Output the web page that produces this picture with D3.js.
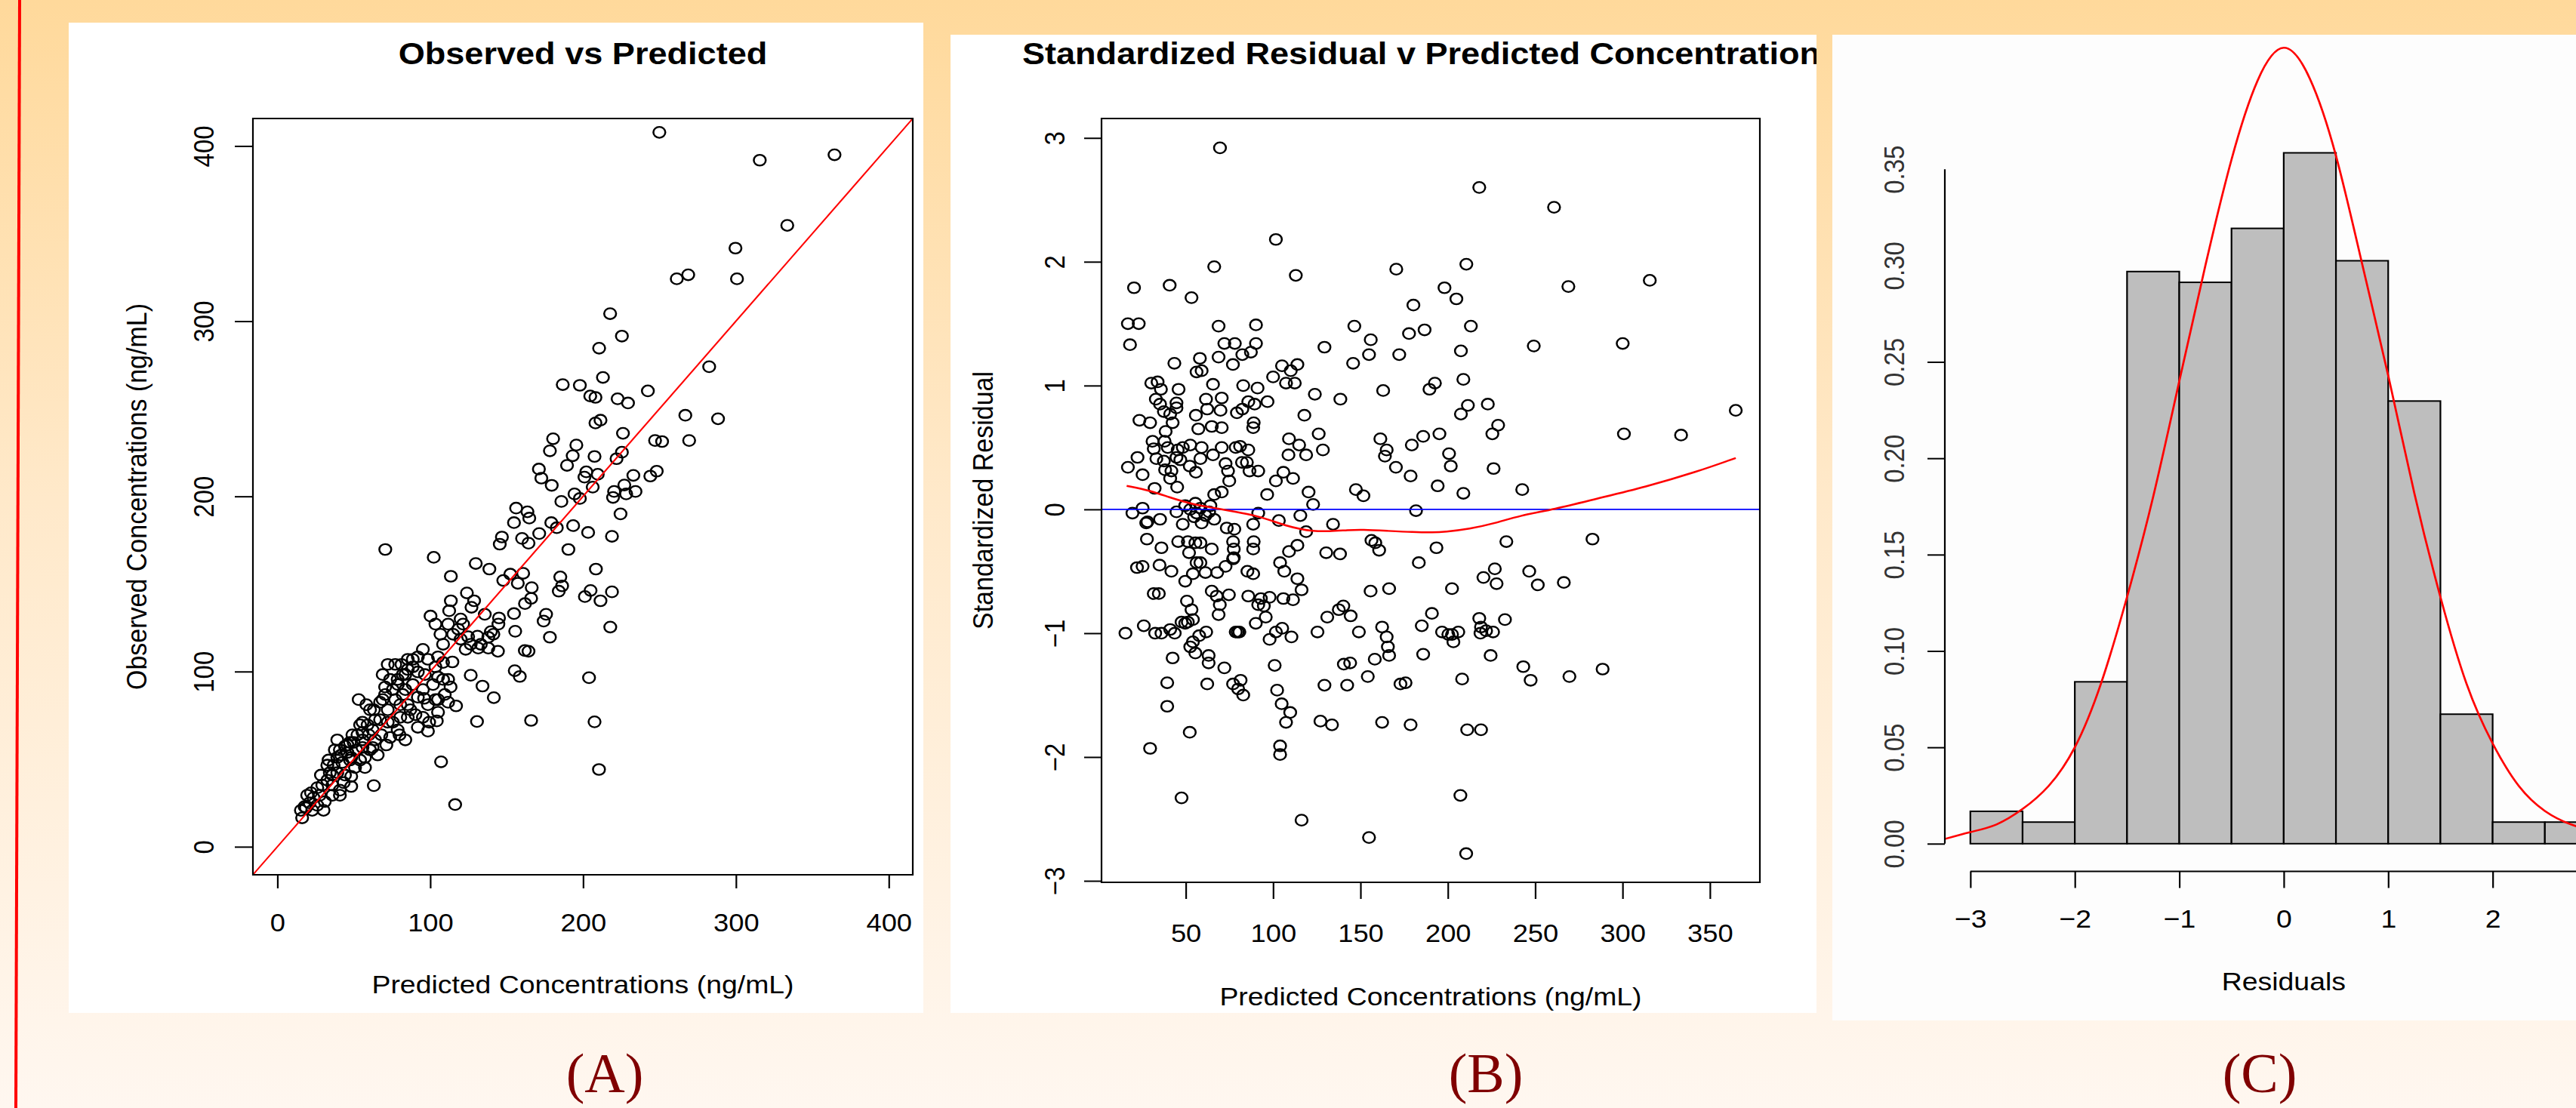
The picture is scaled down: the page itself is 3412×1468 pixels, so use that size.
<!DOCTYPE html>
<html>
<head>
<meta charset="utf-8">
<script src="https://cdn.jsdelivr.net/npm/d3@7"></script>
<style>
  html, body { margin: 0; padding: 0; overflow: hidden; }
  svg { display: block; }
  text { font-family: "Liberation Sans", Arial, sans-serif; }
</style>
</head>
<body>
<svg id="fig"></svg>
<script>
const WIDTH = 3412;
const HEIGHT = 1468;
// the pasted plots are a little wider than tall
const SX = 1.1;
const hx = (v) => v / SX;

// (A) predicted vs observed concentration, ng/mL
const obsPred = [
  [249.9,407.8],[315.6,391.9],[364.5,395.0],[333.6,354.7],[299.7,341.7],[300.7,324.2],[261.3,324.2],[268.8,326.5],
  [217.7,304.3],[225.4,291.5],[210.5,284.6],[282.5,274.0],[213.0,267.9],[186.7,263.8],[197.9,263.4],[204.7,257.3],
  [208.1,256.5],[222.6,255.7],[229.4,253.3],[242.4,260.2],[266.9,246.3],[288.3,244.3],[208.1,241.9],[211.4,243.5],
  [226.1,236.0],[180.4,232.9],[178.3,226.0],[195.6,229.3],[193.2,223.2],[207.5,222.8],[225.4,225.2],[221.9,221.5],
  [247.1,231.9],[251.7,231.3],[269.4,231.9],[171.1,215.6],[172.7,210.4],[179.5,206.3],[189.5,217.7],[202.1,214.0],
  [200.9,211.0],[209.6,212.6],[206.3,205.3],[232.9,212.0],[244.0,211.6],[248.2,214.4],[220.3,202.8],[227.0,206.5],
  [234.3,202.8],[219.6,199.4],[228.2,201.4],[194.4,201.4],[185.8,197.1],[197.9,198.8],[224.5,190.0],[156.2,193.3],
  [163.6,191.2],[164.8,187.6],[154.8,185.0],[179.2,185.0],[182.8,182.1],[193.5,183.3],[203.3,179.4],[171.3,178.8],
  [160.1,176.0],[164.3,173.3],[146.9,176.8],[145.5,172.7],[218.9,177.2],[190.4,169.7],[70.6,169.7],[102.3,165.2],
  [129.8,161.7],[138.7,158.5],[113.5,154.4],[152.4,155.6],[160.8,156.1],[147.8,152.0],[157.3,150.4],[166.4,147.9],
  [208.4,158.5],[185.1,154.0],[186.3,148.9],[184.1,145.9],[204.9,146.3],[218.9,145.5],[201.2,142.8],[211.4,140.4],
  [124.0,144.9],[128.7,140.4],[166.0,141.8],[162.0,138.8],[113.5,140.4],[112.4,134.7],[127.0,136.7],[100.2,131.7],
  [135.7,132.7],[145.0,130.6],[154.8,133.1],[175.8,132.7],
  [217.8,125.4],[178.3,119.6],[174.2,128.8],[155.6,123.0],[164.3,111.6],[161.9,112.0],[155.3,100.5],[158.6,97.2],
  [203.9,96.5],[130.9,120.2],[138.0,119.6],[144.3,111.6],[131.4,113.4],[138.0,113.4],[126.5,97.9],[134.2,91.7],
  [141.6,85.1],[116.9,80.4],[130.6,71.5],[166.0,72.1],[207.5,71.3],[107.1,48.5],[210.4,44.1],[116.3,24.1],
  [63.1,34.9],[114.5,105.5],[108.4,105.2],[111.7,95.5],[105.1,96.9],[103.4,102.7],[113.3,91.2],[109.5,86.9],
  [111.7,82.5],[105.1,76.8],[104.3,71.8],[98.5,66.0],[103.4,84.0],[96.0,84.7],[90.3,75.4],[95.2,73.9],
  [83.7,61.0],[79.9,63.9],[85.3,81.1],[87.0,78.2],[82.0,86.9],[77.1,84.0],[78.8,92.6],[73.8,95.5],
  [83.7,98.3],[88.6,102.7],[91.9,99.8],[96.5,98.3],[70.5,91.2],[68.9,84.0],[72.2,78.2],[67.2,72.5],
  [75.5,71.1],[78.7,66.7],[73.8,62.4],[71.3,58.1],[68.0,63.9],[62.3,66.7],[63.9,61.0],[59.8,63.9],
  [60.6,55.3],[55.7,56.7],[54.1,49.5],[57.3,45.2],[50.8,45.2],[48.3,51.0],[53.2,84.0],[58.2,81.1],
  [54.1,69.6],[55.7,65.3],[49.1,63.9],[44.2,57.4],[40.9,55.3],[39.2,51.0],[45.8,53.8],[42.5,48.1],
  [36.8,46.6],[34.3,42.3],[39.2,42.3],[32.7,38.0],[29.4,35.2],[36.0,35.2],[40.9,32.3],[48.3,34.4],
  [27.7,29.4],[23.6,28.0],[31.0,25.8],[21.1,25.1],[17.8,22.9],[15.4,20.8],[16.2,16.5],[26.1,23.7],
  [30.2,20.8],[36.0,29.4],[40.9,29.4],[62.3,56.7],[65.6,52.4],[39.2,61.0],[44.2,40.9],[22.8,20.8],
  [19.5,29.4],[48.3,40.2],[63.9,72.5],[60.6,78.2],[80.4,73.9],[85.3,73.9],[91.9,68.2],[99.3,71.1],
  [37.6,55.3],[41.7,52.4],[45.8,58.1],[49.9,59.6],[52.4,63.9],[55.7,71.1],[59.0,69.6],[63.1,78.2],
  [67.2,82.5],[70.5,86.9],[75.5,89.7],[78.7,95.5],[82.0,98.3],[85.3,101.2],[81.2,104.1],[88.6,107.0],
  [91.9,108.4],[95.2,112.7],[98.5,107.0],[105.1,108.4],[108.4,115.6],[115.0,121.3],[118.3,124.2],[121.5,127.1],
  [111.7,127.1],[119.9,130.0],[103.4,127.1],[106.7,121.3],[124.8,119.9],[126.5,115.6],[133.1,115.6],[139.7,122.8],
  [144.6,127.1],[141.3,121.3],[119.9,118.5],[123.2,112.7],[32.7,46.6],[26.1,33.7],[22.0,30.8],[18.7,22.2],
  [28.5,40.9],[33.5,49.5],[47.5,59.6],[51.6,55.3],[55.7,61.0],[36.0,40.9],[43.4,36.6],[47.5,49.5],
  [57.3,51.0],[72.2,71.1],[80.4,81.1],[91.9,85.4],[88.6,92.6],[95.2,89.7],[101.8,92.6],[108.4,95.5],
  [98.5,81.1],[105.1,84.0],[83.7,89.7],[85.3,107.0],[77.1,104.1],[72.2,104.1],[68.9,98.3]
];

// (B) predicted concentration vs standardized residual
const residuals = [
  [69.6,2.92],[101.6,2.18],[66.3,1.96],[113.0,1.89],[170.5,1.94],[20.4,1.79],[40.8,1.81],[53.3,1.71],[180.3,1.65],
  [16.9,1.50],[23.1,1.50],[18.1,1.33],[68.8,1.48],[90.2,1.49],[146.5,1.48],[155.9,1.37],[177.8,1.42],[186.7,1.45],
  [72.1,1.34],[78.1,1.34],[90.2,1.34],[82.4,1.25],[87.3,1.27],[68.8,1.23],[77.0,1.17],[129.4,1.31],[154.9,1.25],
  [172.2,1.25],[145.8,1.18],[43.5,1.18],[58.1,1.22],[56.2,1.11],[59.1,1.12],[105.1,1.16],[113.9,1.17],[110.1,1.12],
  [100.0,1.07],[107.4,1.02],[112.4,1.02],[30.3,1.02],[33.9,1.03],[35.8,0.97],[45.9,0.97],[65.6,1.01],[82.9,1.00],
  [91.1,0.98],[123.9,0.93],[138.5,0.89],[163.0,0.96],[32.9,0.89],[35.3,0.85],[44.7,0.86],[44.7,0.82],[61.6,0.89],
  [70.6,0.90],[62.3,0.81],[69.9,0.80],[85.8,0.87],[89.4,0.85],[96.8,0.87],[79.3,0.78],[82.4,0.81],[37.5,0.79],
  [41.1,0.77],[23.5,0.72],[29.6,0.70],[42.5,0.70],[55.8,0.76],[57.2,0.65],[64.9,0.67],[70.6,0.66],[88.9,0.70],
  [88.6,0.66],[117.9,0.76],[126.1,0.61],[109.1,0.57],[114.9,0.52],[108.8,0.44],[118.9,0.44],[128.5,0.48],[161.4,0.57],
  [165.0,0.48],[164.0,0.43],[170.3,0.34],[178.7,0.27],[179.4,0.52],[185.9,0.59],[38.5,0.63],[37.9,0.55],[31.0,0.55],
  [31.7,0.49],[39.7,0.50],[45.4,0.48],[48.3,0.50],[52.6,0.52],[59.1,0.50],[65.6,0.44],[70.6,0.50],[78.6,0.50],
  [81.1,0.51],[85.8,0.48],[22.4,0.42],[16.9,0.34],[25.3,0.28],[33.2,0.41],[37.5,0.39],[44.7,0.42],[46.9,0.40],
  [52.3,0.35],[58.4,0.41],[38.2,0.32],[41.8,0.31],[55.8,0.30],[41.1,0.25],[72.8,0.37],[74.2,0.31],[74.9,0.23],
  [82.2,0.38],[85.0,0.38],[86.5,0.31],[91.5,0.31],[101.6,0.23],[105.9,0.30],[111.4,0.25],[32.2,0.17],[45.1,0.18],
  [120.3,0.14],[147.4,0.16],[66.3,0.12],[70.6,0.14],[96.6,0.12],[151.7,0.11],
  [25.3,0.01],[19.5,-0.03],[28.1,-0.10],[27.4,-0.11],[35.3,-0.08],[44.7,-0.02],[48.3,-0.12],[52.6,0.00],[56.2,-0.03],
  [59.1,-0.11],[61.3,-0.05],[66.3,-0.08],[64.1,0.03],[73.5,-0.15],[77.8,-0.16],[88.6,-0.12],[91.5,-0.03],[103.3,-0.09],
  [115.6,-0.05],[122.9,0.04],[118.9,-0.18],[134.3,-0.12],[181.8,-0.01],[49.7,0.03],[54.8,-0.06],[58.4,0.01],[63.4,-0.02],
  [55.5,0.05],[27.8,-0.24],[36.1,-0.31],[45.7,-0.26],[51.2,-0.26],[55.5,-0.27],[58.4,-0.27],[64.9,-0.32],[51.9,-0.35],
  [77.1,-0.26],[77.5,-0.32],[77.5,-0.39],[88.9,-0.26],[88.6,-0.32],[113.9,-0.29],[109.1,-0.34],[130.4,-0.35],[138.3,-0.36],
  [156.3,-0.25],[160.7,-0.33],[158.5,-0.27],[183.4,-0.43],[22.1,-0.47],[25.3,-0.46],[35.0,-0.45],[41.8,-0.50],[54.1,-0.52],
  [56.2,-0.43],[58.4,-0.43],[61.3,-0.51],[49.7,-0.58],[68.0,-0.51],[72.8,-0.46],[77.1,-0.40],[85.3,-0.50],[88.6,-0.52],
  [104.0,-0.43],[106.4,-0.50],[113.9,-0.56],[116.3,-0.65],[31.7,-0.68],[34.6,-0.68],[64.9,-0.66],[67.7,-0.70],[74.7,-0.69],
  [85.8,-0.70],[93.0,-0.72],[98.0,-0.71],[91.5,-0.77],[94.7,-0.78],[105.9,-0.72],[111.4,-0.73],[155.8,-0.66],[166.4,-0.64],
  [50.7,-0.74],[53.3,-0.81],[69.5,-0.77],[68.8,-0.85],[95.8,-0.87],[90.1,-0.92],[140.2,-0.78],[137.6,-0.81],[144.4,-0.86],
  [131.0,-0.87],[15.5,-1.00],[26.0,-0.94],[32.5,-1.00],[36.1,-1.00],[41.1,-0.97],[43.7,-1.00],[47.6,-0.91],[51.2,-0.91],
  [54.1,-0.89],[49.7,-0.92],[61.7,-0.99],[57.7,-1.02],[54.1,-1.07],[52.6,-1.11],[55.5,-1.16],[79.7,-0.99],[80.7,-0.99],
  [78.6,-0.99],[98.0,-1.05],[101.6,-0.99],[105.2,-0.96],[110.5,-1.03],[125.4,-0.99],[149.1,-0.99],[162.4,-0.95],[165.0,-1.03],
  [165.7,-1.11],[166.4,-1.18],[185.1,-0.94],[185.9,-1.17],[42.5,-1.20],[63.1,-1.18],[63.1,-1.24],[72.1,-1.28],[100.9,-1.26],
  [140.5,-1.25],[144.1,-1.24],[158.2,-1.21],[39.4,-1.40],[62.3,-1.41],[77.1,-1.41],[81.4,-1.38],[80.0,-1.45],[82.9,-1.50],
  [102.3,-1.46],[129.4,-1.42],[142.4,-1.42],[154.2,-1.35],[172.9,-1.41],[175.8,-1.40],[39.4,-1.59],[104.9,-1.57],[109.8,-1.64],
  [107.4,-1.72],[127.1,-1.71],[133.7,-1.74],[162.4,-1.72],[178.7,-1.74],[52.3,-1.80],[29.6,-1.93],[104.0,-1.91],[104.0,-1.98],
  [47.6,-2.33],[116.3,-2.51],[154.9,-2.65],
  [218.0,2.60],[260.8,2.44],[210.6,1.98],[198.1,1.79],[204.9,1.70],[269.0,1.80],[315.6,1.85],[213.2,1.48],[207.5,1.28],
  [249.2,1.32],[300.1,1.34],[189.5,0.97],[192.6,1.02],[208.9,1.05],[211.5,0.84],[207.5,0.77],[222.9,0.85],[225.5,0.61],
  [228.8,0.68],[195.2,0.61],[300.8,0.61],[333.5,0.60],[364.8,0.80],[200.7,0.45],[201.7,0.35],[194.2,0.19],[208.9,0.13],
  [226.2,0.33],[242.6,0.16],[193.5,-0.31],[233.5,-0.26],[282.8,-0.24],[202.4,-0.64],[226.9,-0.48],[220.4,-0.55],[227.9,-0.60],
  [246.6,-0.50],[251.5,-0.61],[266.4,-0.59],[190.9,-0.84],[196.7,-0.99],[200.3,-1.01],[202.4,-1.01],[206.0,-0.99],[203.2,-1.07],
  [218.0,-0.88],[219.0,-0.95],[218.7,-1.00],[221.9,-0.98],[225.9,-0.99],[232.7,-0.89],[224.5,-1.18],[208.2,-1.37],[243.2,-1.27],
  [247.4,-1.38],[269.6,-1.35],[288.6,-1.29],[211.1,-1.78],[219.0,-1.78],[207.2,-2.31],[210.5,-2.78]
];

// (B) smoother through the residuals
const loessB = [
  [16.2,0.19],[30,0.15],[40,0.10],[54,0.04],[67,0.01],[79,-0.02],[90,-0.05],[99,-0.09],[107,-0.13],[116,-0.16],
  [122,-0.175],[132,-0.178],[143,-0.167],[151,-0.163],[165,-0.173],[180,-0.184],[192,-0.187],[198,-0.182],
  [212.5,-0.158],[226.9,-0.113],[241.3,-0.049],[260.8,0.0],[284.5,0.084],[313.3,0.182],[342.2,0.302],[364.8,0.415]
];

// (C) histogram of residuals (density) with fitted curve
const histBreaks = [-3, -2.5, -2, -1.5, -1, -0.5, 0, 0.5, 1, 1.5, 2, 2.5, 3];
const histDensity = [0.0168, 0.0112, 0.0840, 0.2969, 0.2913, 0.3193, 0.3585, 0.3025, 0.2297, 0.0672, 0.0112, 0.0112];
const densityCurve = [
  [-3.24,0.0025],[-3.0,0.006],[-2.75,0.010],[-2.5,0.018],[-2.25,0.030],[-2.0,0.050],[-1.75,0.083],[-1.5,0.128],
  [-1.25,0.180],[-1.0,0.240],[-0.75,0.300],[-0.5,0.355],[-0.25,0.396],[0,0.413],[0.25,0.397],[0.5,0.357],
  [0.75,0.301],[1.0,0.243],[1.25,0.182],[1.5,0.128],[1.75,0.083],[2.0,0.052],[2.25,0.030],[2.5,0.017],
  [2.75,0.010],[3.0,0.006],[3.2,0.0035]
];

const ticksA = [0, 100, 200, 300, 400];
const ticksBx = [50, 100, 150, 200, 250, 300, 350];
const ticksBy = [-3, -2, -1, 0, 1, 2, 3];
// the tick at 3 falls just past the right edge of the picture
const ticksCx = [-3, -2, -1, 0, 1, 2];
const ticksCy = [0, 0.05, 0.10, 0.15, 0.20, 0.25, 0.30, 0.35];
const tickMarksCy = [0, 0.05, 0.10, 0.15, 0.20, 0.25];
const panelNames = ['(A)', '(B)', '(C)'];

const minus = (v) => String(v).replace('-', '\u2212');

function bottomAxis(g, scale, ticks, y, size, labelY, fmt) {
  const ax = g.append('g')
      .attr('transform', `translate(0,${y})`)
      .call(d3.axisBottom(scale).tickValues(ticks).tickSize(size).tickFormat(fmt));
  ax.select('.domain').remove();
  ax.selectAll('.tick line').attr('stroke', '#000').attr('stroke-width', 2);
  ax.selectAll('.tick text')
      .attr('y', labelY).attr('dy', null)
      .attr('fill', '#000')
      .style('font-size', '33px')
      .style('font-family', '"Liberation Sans", Arial, sans-serif');
  return ax;
}

function leftAxis(g, scale, ticks, x, size, labelX, fmt, colour) {
  const ax = g.append('g')
      .attr('transform', `translate(${x},0)`)
      .call(d3.axisLeft(scale).tickValues(ticks).tickSize(size).tickFormat(fmt));
  ax.select('.domain').remove();
  ax.selectAll('.tick line').attr('stroke', '#000').attr('stroke-width', 2);
  ax.selectAll('.tick text')
      .attr('x', null).attr('dy', null)
      .attr('transform', `translate(${-labelX},0) rotate(-90)`)
      .attr('text-anchor', 'middle')
      .attr('fill', colour || '#000')
      .style('font-size', '33px')
      .style('font-family', '"Liberation Sans", Arial, sans-serif');
  return ax;
}

function label(g, text, x, y, opts = {}) {
  const t = g.append('text')
      .attr('text-anchor', 'middle')
      .attr('fill', opts.fill || '#000')
      .style('font-size', (opts.size || 34) + 'px')
      .style('font-weight', opts.bold ? 'bold' : 'normal')
      .text(text);
  if (opts.rotate) {
    t.attr('transform', `translate(${x},${y}) rotate(-90)`);
  } else {
    t.attr('x', x).attr('y', y);
  }
  return t;
}

window.onload = () => {
  const svg = d3.select('#fig')
      .attr('width', WIDTH)
      .attr('height', HEIGHT);

  const defs = svg.append('defs');
  const grad = defs.append('linearGradient')
      .attr('id', 'bg').attr('x1', 0).attr('y1', 0).attr('x2', 0).attr('y2', 1);
  grad.append('stop').attr('offset', '0%').attr('stop-color', '#FFD99B');
  grad.append('stop').attr('offset', '45%').attr('stop-color', '#FFE9CA');
  grad.append('stop').attr('offset', '100%').attr('stop-color', '#FFF7F0');

  svg.append('rect').attr('width', WIDTH).attr('height', HEIGHT).attr('fill', 'url(#bg)');
  svg.append('line')
      .attr('x1', 26).attr('y1', 0).attr('x2', 21).attr('y2', HEIGHT)
      .attr('stroke', '#FF0000').attr('stroke-width', 4);

  // white plot backgrounds
  const boxes = [
    {x: 91, y: 30, w: 1132, h: 1312},
    {x: 1259, y: 46, w: 1147, h: 1296},
    {x: 2427, y: 46, w: 985, h: 1306},
  ];
  svg.append('g').selectAll('rect')
      .data(boxes)
      .join('rect')
      .attr('x', (d) => d.x).attr('y', (d) => d.y)
      .attr('width', (d) => d.w).attr('height', (d) => d.h)
      .attr('fill', (d, i) => (i === 2 ? '#FDFDFD' : '#FFFFFF'));

  // panel letters
  svg.append('g').selectAll('text')
      .data(panelNames)
      .join('text')
      .attr('x', (d, i) => [801, 1968, 2993][i])
      .attr('y', 1447)
      .attr('text-anchor', 'middle')
      .attr('fill', '#800000')
      .style('font-family', '"Liberation Serif", "Times New Roman", serif')
      .style('font-size', '74px')
      .text((d) => d);

  const g = svg.append('g').attr('transform', `scale(${SX},1)`);

  // ---------- (A) ----------
  const limA = [-16, 415.7];
  const xA = d3.scaleLinear().domain(limA).range([hx(335), hx(1209)]);
  const yA = d3.scaleLinear().domain(limA).range([1159, 157]);
  const gA = g.append('g');

  gA.append('g').selectAll('circle')
      .data(obsPred)
      .join('circle')
      .attr('cx', (d) => xA(d[0]))
      .attr('cy', (d) => yA(d[1]))
      .attr('r', 7.2)
      .attr('fill', 'none')
      .attr('stroke', '#000')
      .attr('stroke-width', 2.3);

  gA.append('line')
      .attr('x1', xA(limA[0])).attr('y1', yA(limA[0]))
      .attr('x2', xA(limA[1])).attr('y2', yA(limA[1]))
      .attr('stroke', '#FF0000').attr('stroke-width', 2);

  gA.append('rect')
      .attr('x', xA(limA[0])).attr('y', yA(limA[1]))
      .attr('width', xA(limA[1]) - xA(limA[0]))
      .attr('height', yA(limA[0]) - yA(limA[1]))
      .attr('fill', 'none').attr('stroke', '#000').attr('stroke-width', 2);

  bottomAxis(gA, xA, ticksA, 1159, 18, 75, d3.format('d'));
  leftAxis(gA, yA, ticksA, hx(335), hx(24), hx(52), d3.format('d'));

  const midA = (xA(limA[0]) + xA(limA[1])) / 2;
  label(gA, 'Observed vs Predicted', midA, 85, {size: 41, bold: true});
  label(gA, 'Predicted Concentrations (ng/mL)', midA, 1316);
  label(gA, 'Observed Concentrations (ng/mL)', hx(194), 658, {rotate: true});

  // ---------- (B) ----------
  const limBx = [1.8, 378.6];
  const limBy = [-3.012, 3.157];
  const xB = d3.scaleLinear().domain(limBx).range([hx(1459), hx(2331)]);
  const yB = d3.scaleLinear().domain(limBy).range([1169, 157]);
  const gB = g.append('g');

  gB.append('g').selectAll('circle')
      .data(residuals)
      .join('circle')
      .attr('cx', (d) => xB(d[0]))
      .attr('cy', (d) => yB(d[1]))
      .attr('r', 7.2)
      .attr('fill', 'none')
      .attr('stroke', '#000')
      .attr('stroke-width', 2.3);

  gB.append('line')
      .attr('x1', xB(limBx[0])).attr('x2', xB(limBx[1]))
      .attr('y1', yB(0)).attr('y2', yB(0))
      .attr('stroke', '#0000FF').attr('stroke-width', 1.6);

  gB.append('path')
      .datum(loessB)
      .attr('d', d3.line().x((d) => xB(d[0])).y((d) => yB(d[1])).curve(d3.curveBasis))
      .attr('fill', 'none').attr('stroke', '#FF0000').attr('stroke-width', 2.5);

  gB.append('rect')
      .attr('x', xB(limBx[0])).attr('y', yB(limBy[1]))
      .attr('width', xB(limBx[1]) - xB(limBx[0]))
      .attr('height', yB(limBy[0]) - yB(limBy[1]))
      .attr('fill', 'none').attr('stroke', '#000').attr('stroke-width', 2);

  bottomAxis(gB, xB, ticksBx, 1169, 22, 78.6, d3.format('d'));
  leftAxis(gB, yB, ticksBy, hx(1459), hx(23), hx(49), minus);

  const midB = (xB(limBx[0]) + xB(limBx[1])) / 2;
  defs.append('clipPath').attr('id', 'clipB')
    .append('rect')
      .attr('x', hx(1259)).attr('y', 0)
      .attr('width', hx(2406 - 1259)).attr('height', HEIGHT);
  label(gB, 'Standardized Residual v Predicted Concentrations', midB, 85, {size: 41, bold: true})
      .attr('clip-path', 'url(#clipB)');
  label(gB, 'Predicted Concentrations (ng/mL)', midB, 1332);
  label(gB, 'Standardized Residual', hx(1315), 663, {rotate: true});

  // ---------- (C) ----------
  const xC = d3.scaleLinear().domain([-3, 2]).range([hx(2609.8), hx(3301.6)]);
  const yC = d3.scaleLinear().domain([0, 0.35]).range([1117.8, 224.2]);
  const gC = g.append('g');

  const bins = histDensity.map((d, i) => ({x0: histBreaks[i], x1: histBreaks[i + 1], d}));
  gC.append('g').selectAll('rect')
      .data(bins)
      .join('rect')
      .attr('x', (b) => xC(b.x0))
      .attr('y', (b) => yC(b.d))
      .attr('width', (b) => xC(b.x1) - xC(b.x0))
      .attr('height', (b) => yC(0) - yC(b.d))
      .attr('fill', '#BEBEBE')
      .attr('stroke', '#000')
      .attr('stroke-width', 2);

  gC.append('path')
      .datum(densityCurve)
      .attr('d', d3.line().x((d) => xC(d[0])).y((d) => yC(d[1])).curve(d3.curveNatural))
      .attr('fill', 'none').attr('stroke', '#FF0000').attr('stroke-width', 2.5);

  // y axis: line from 0 to 0.35
  gC.append('line')
      .attr('x1', hx(2576)).attr('x2', hx(2576))
      .attr('y1', yC(0)).attr('y2', yC(0.35))
      .attr('stroke', '#000').attr('stroke-width', 2);
  const cy = leftAxis(gC, yC, ticksCy, hx(2576), hx(23), hx(54), d3.format('.2f'), '#333');
  cy.selectAll('.tick line')
      .attr('display', (d) => (tickMarksCy.includes(d) ? null : 'none'));

  // x axis below the bars, running off the right edge
  gC.append('line')
      .attr('x1', xC(-3)).attr('x2', xC(3))
      .attr('y1', 1154.5).attr('y2', 1154.5)
      .attr('stroke', '#000').attr('stroke-width', 2);
  bottomAxis(gC, xC, ticksCx, 1154.5, 22, 74.5, minus)
      .selectAll('.tick text').style('font-size', '34px');

  label(gC, 'Residuals', xC(0), 1312);
};
</script>
</body>
</html>
